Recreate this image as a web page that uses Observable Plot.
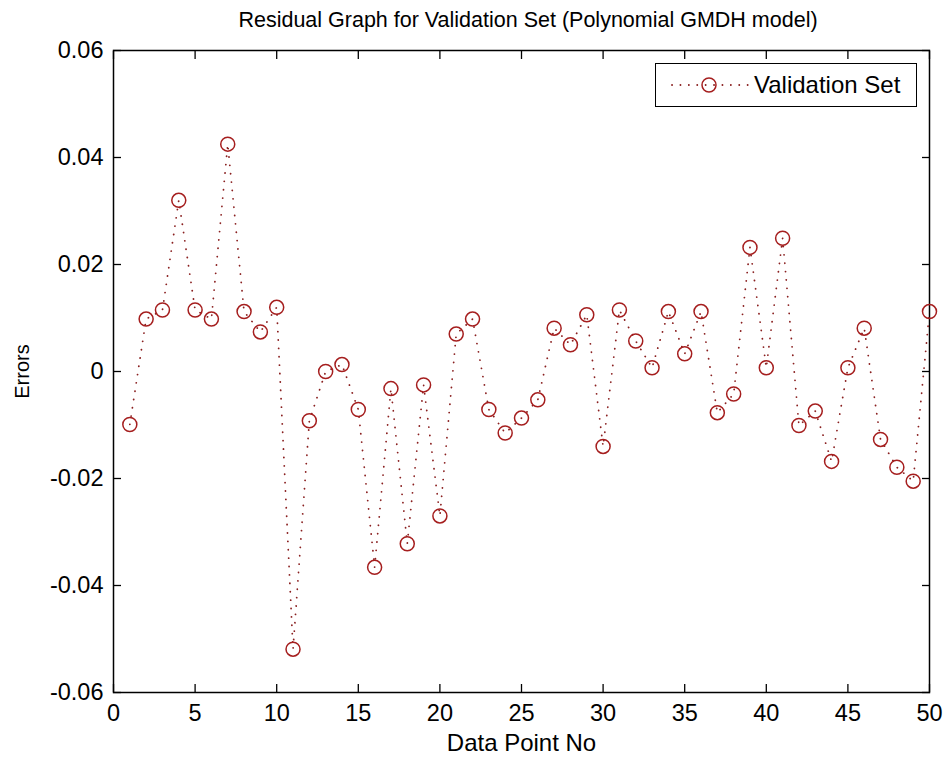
<!DOCTYPE html>
<html>
<head>
<meta charset="utf-8">
<script src="https://cdn.jsdelivr.net/npm/d3@7"></script>
<script src="https://cdn.jsdelivr.net/npm/@observablehq/plot@0.6"></script>
<style>
  html, body { margin: 0; padding: 0; background: #fff; }
  #wrap { position: relative; width: 943px; height: 759px; font-family: Arial, "Liberation Sans", sans-serif; }
  #title { position: absolute; left: 113px; width: 830px; top: 6px; text-align: center; font-size: 21.5px; line-height: 28px; color: #000; }
  #chart { position: absolute; left: 0; top: 40px; }
  #legend { position: absolute; left: 655px; top: 63px; width: 260px; height: 42px; border: 1.5px solid #000; background: #fff; }
  #legend svg { position: absolute; left: 0; top: 0; }
  #legend span { position: absolute; left: 98px; top: 6px; font-size: 24px; line-height: 30px; color: #000; }
</style>
</head>
<body>
<div id="wrap">
  <div id="title">Residual Graph for Validation Set (Polynomial GMDH model)</div>
  <div id="chart"></div>
  <div id="legend">
    <svg width="100" height="42">
      <line x1="16" x2="92" y1="21" y2="21" stroke="#8a2020" stroke-width="1.8" stroke-linecap="round" stroke-dasharray="0.1,8.3"></line>
      <circle cx="53" cy="21" r="7" fill="none" stroke="#a51e1e" stroke-width="1.5"></circle>
    </svg>
    <span>Validation Set</span>
  </div>
</div>
<script>
const dataPoint = [1,2,3,4,5,6,7,8,9,10,11,12,13,14,15,16,17,18,19,20,21,22,23,24,25,26,27,28,29,30,31,32,33,34,35,36,37,38,39,40,41,42,43,44,45,46,47,48,49,50];
const errors = [
  -0.0099, 0.0098, 0.0115, 0.0320, 0.0115, 0.0098, 0.0425, 0.0112, 0.0074, 0.0120,
  -0.0519, -0.0092, 0.0000, 0.0013, -0.0071, -0.0366, -0.0032, -0.0322, -0.0025, -0.0270,
  0.0070, 0.0098, -0.0071, -0.0115, -0.0087, -0.0053, 0.0081, 0.0050, 0.0106, -0.0140,
  0.0115, 0.0057, 0.0007, 0.0112, 0.0033, 0.0112, -0.0077, -0.0042, 0.0232, 0.0007,
  0.0249, -0.0101, -0.0074, -0.0168, 0.0007, 0.0081, -0.0127, -0.0179, -0.0205, 0.0112
];
const xTicks = [0,5,10,15,20,25,30,35,40,45,50];
const yTicks = [-0.06,-0.04,-0.02,0,0.02,0.04,0.06];
const xLabel = "Data Point No";
const yLabel = "Errors";

const data = dataPoint.map((x, i) => ({x, y: errors[i]}));
const fmtY = d => d === 0 ? "0" : d.toFixed(2);

const chart = Plot.plot({
  width: 943,
  height: 719,
  marginLeft: 113,
  marginRight: 14,
  marginTop: 10,
  marginBottom: 67,
  x: {domain: [0, 50]},
  y: {domain: [-0.06, 0.06]},
  style: {fontFamily: "Arial, 'Liberation Sans', sans-serif", fontSize: "23.5px", color: "#000", background: "#fff", overflow: "visible"},
  marks: [
    Plot.axisX({anchor: "bottom", ticks: xTicks, tickSize: -8, tickPadding: 20, tickFormat: d => String(d), label: null, strokeWidth: 1.3}),
    Plot.axisX({anchor: "top", ticks: xTicks, tickSize: -8, tickFormat: () => "", label: null, strokeWidth: 1.3}),
    Plot.axisY({anchor: "left", ticks: yTicks, tickSize: -8, tickPadding: 18, tickFormat: fmtY, label: null, strokeWidth: 1.3}),
    Plot.axisY({anchor: "right", ticks: yTicks, tickSize: -8, tickFormat: () => "", label: null, strokeWidth: 1.3}),
    Plot.frame({stroke: "#000", strokeWidth: 1.5}),
    Plot.line(data, {x: "x", y: "y", stroke: "#8a2020", strokeWidth: 1.8, strokeLinecap: "round", strokeDasharray: "0.1,8.3"}),
    Plot.dot(data, {x: "x", y: "y", r: 7, stroke: "#a51e1e", strokeWidth: 1.5, fill: "none"}),
    Plot.text([yLabel], {text: d => d, frameAnchor: "left", textAnchor: "middle", lineAnchor: "middle", dx: -91, rotate: -90, fontSize: 20}),
    Plot.text([xLabel], {text: d => d, frameAnchor: "bottom", textAnchor: "middle", lineAnchor: "middle", dy: 51, fontSize: 24})
  ]
});
document.getElementById("chart").appendChild(chart);
</script>
</body>
</html>
